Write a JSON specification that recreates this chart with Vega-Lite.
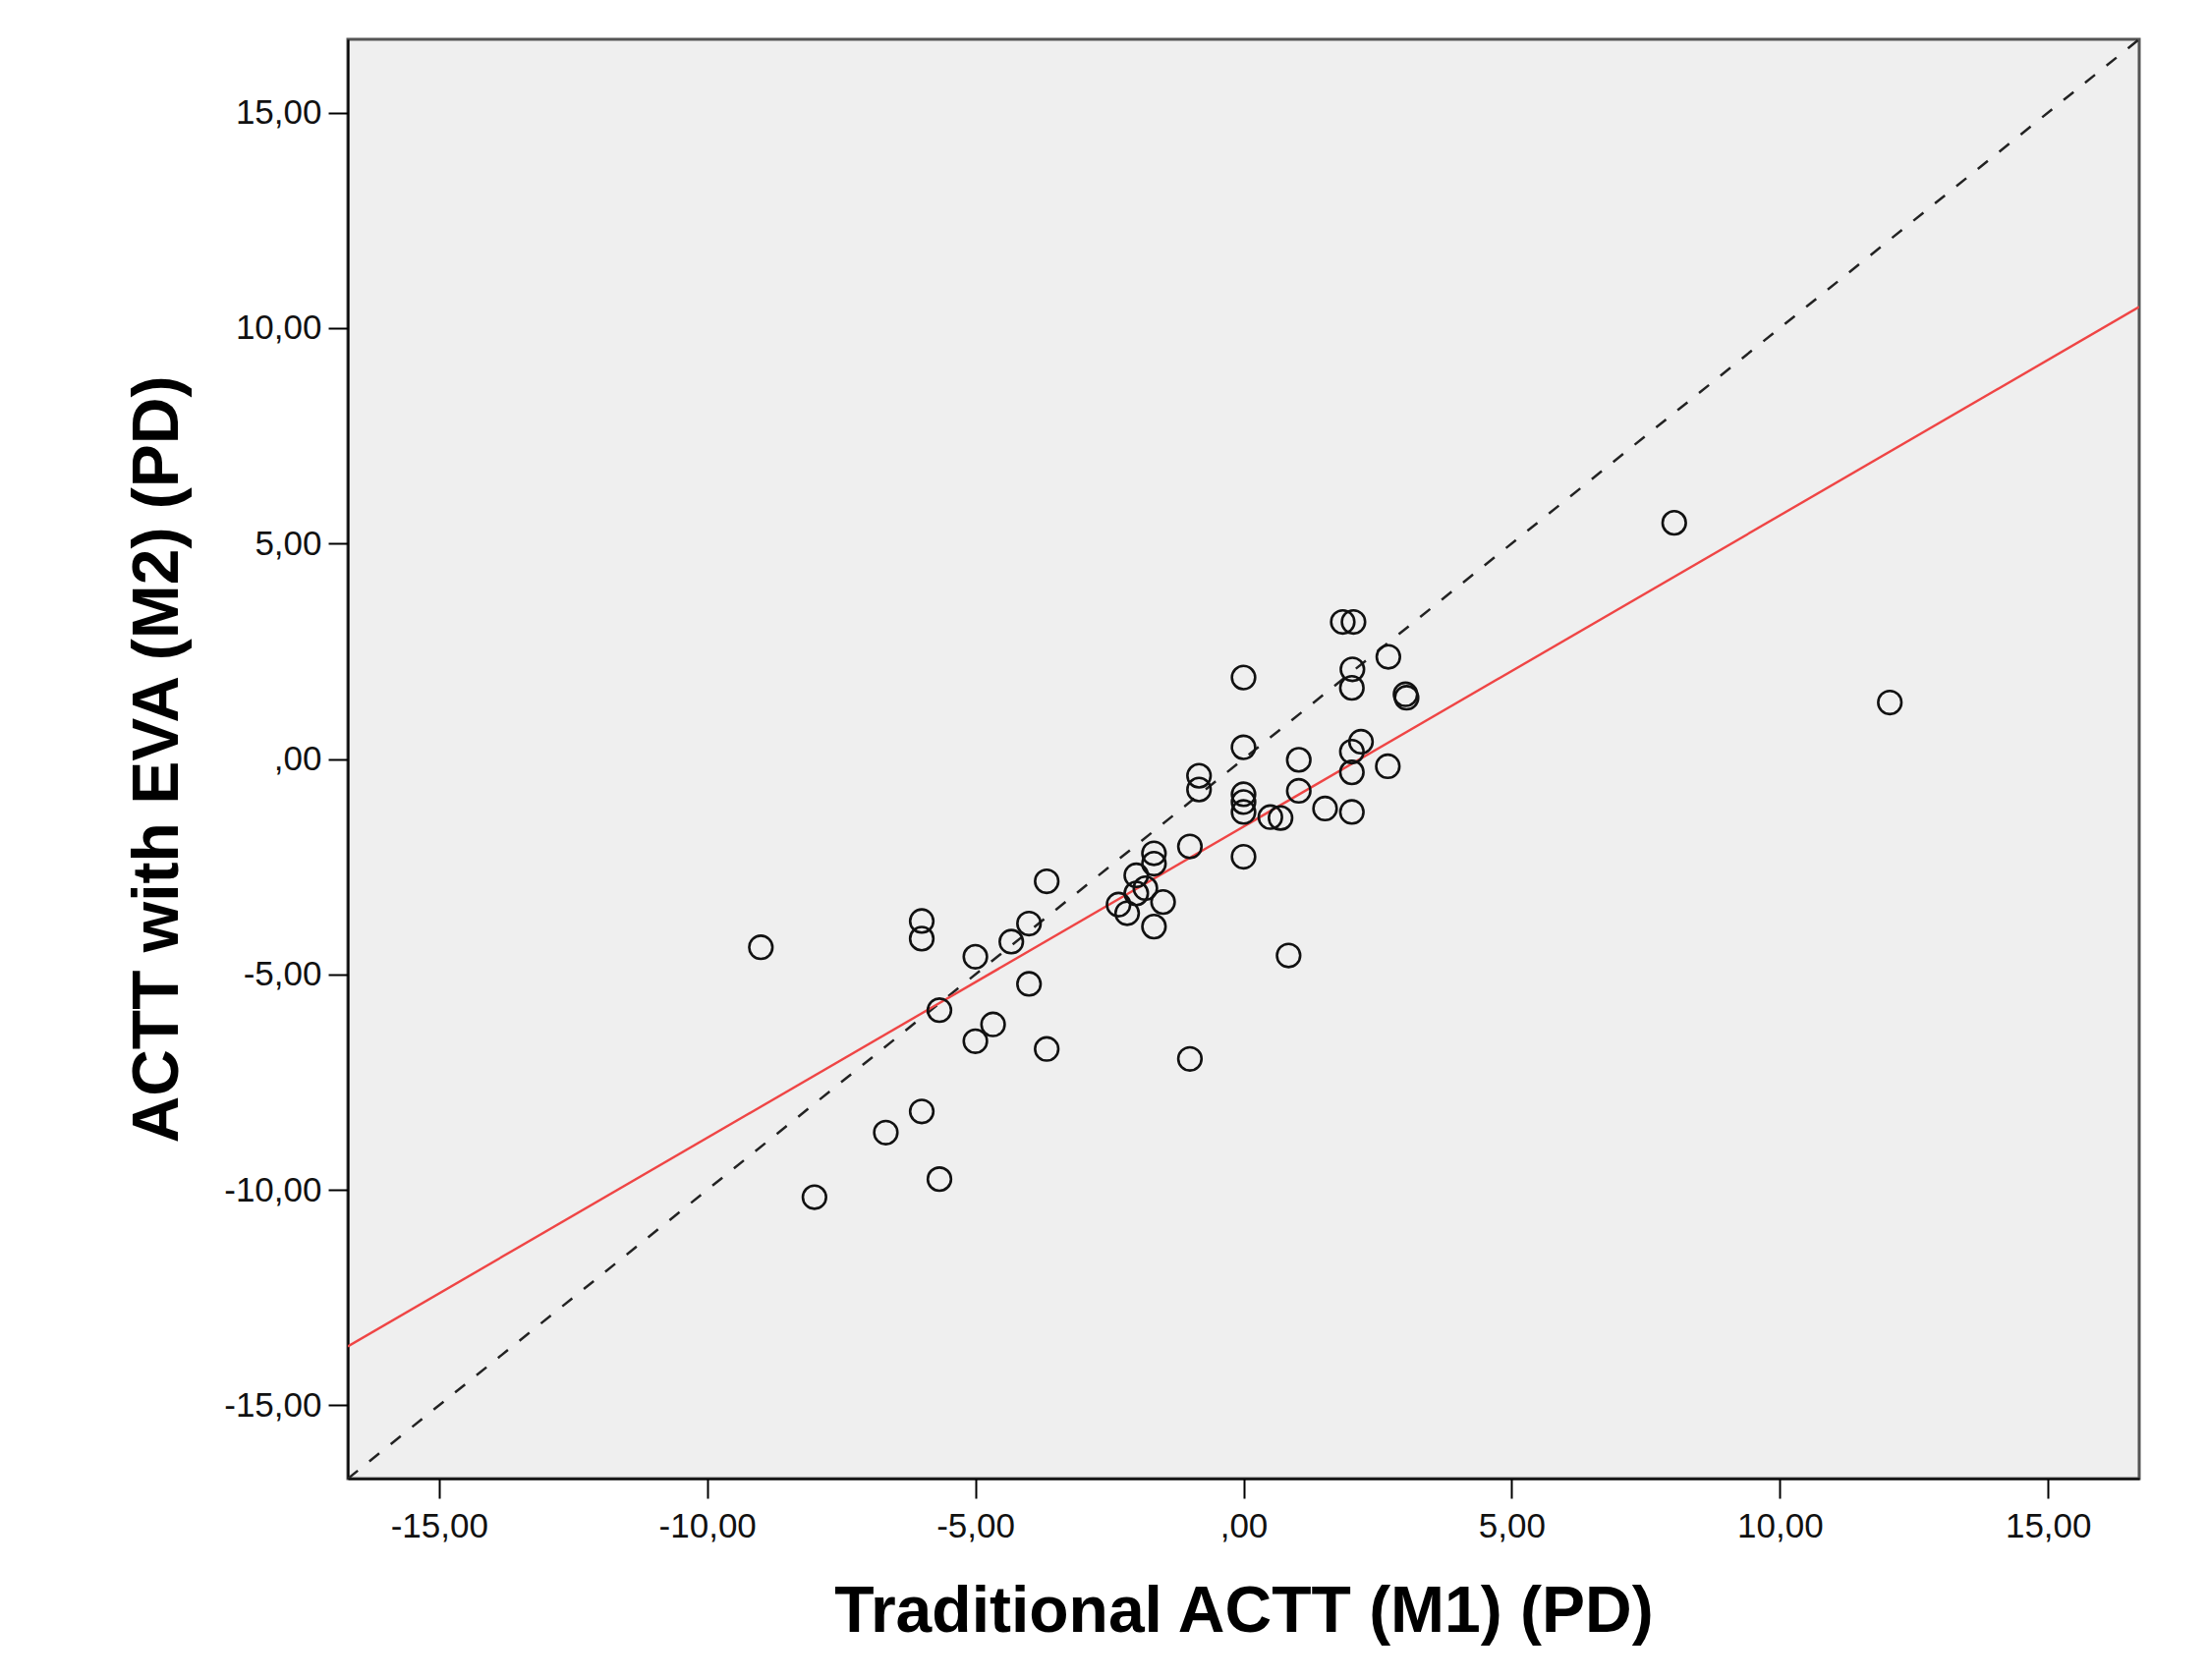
{
  "$schema": "https://vega.github.io/schema/vega-lite/v6.json",
  "autosize": {"type": "none"},
  "width": 1823,
  "height": 1465,
  "padding": {"left": 354, "top": 40, "right": 70, "bottom": 205},
  "background": "#ffffff",
  "config": {
    "view": {"fill": "#efefef", "stroke": "#555555", "strokeWidth": 3},
    "axis": {
      "grid": false,
      "domainColor": "#000000",
      "domainWidth": 2,
      "tickColor": "#000000",
      "tickWidth": 2,
      "tickSize": 20,
      "labelFont": "Liberation Sans",
      "labelFontSize": 35,
      "labelColor": "#111111",
      "titleFont": "Liberation Sans",
      "titleFontSize": 66,
      "titleFontWeight": "bold",
      "titleColor": "#000000"
    }
  },
  "datasets": {
    "points": [
      {"m1": -9, "m2": -4.37},
      {"m1": -8, "m2": -10.17},
      {"m1": -6.67, "m2": -8.67},
      {"m1": -6, "m2": -3.76},
      {"m1": -6, "m2": -4.17},
      {"m1": -6, "m2": -8.18},
      {"m1": -5.67, "m2": -5.83},
      {"m1": -5.67, "m2": -9.75},
      {"m1": -5, "m2": -4.59},
      {"m1": -5, "m2": -6.55},
      {"m1": -4.67, "m2": -6.16},
      {"m1": -4.33, "m2": -4.24},
      {"m1": -4, "m2": -3.82},
      {"m1": -4, "m2": -5.22},
      {"m1": -3.67, "m2": -2.84},
      {"m1": -3.67, "m2": -6.73},
      {"m1": -2.33, "m2": -3.38},
      {"m1": -2.17, "m2": -3.58},
      {"m1": -2, "m2": -2.7},
      {"m1": -2, "m2": -3.12},
      {"m1": -1.83, "m2": -3.0},
      {"m1": -1.67, "m2": -2.19},
      {"m1": -1.67, "m2": -2.43},
      {"m1": -1.67, "m2": -3.89},
      {"m1": -1.5, "m2": -3.32},
      {"m1": -1, "m2": -2.03},
      {"m1": -1, "m2": -6.96},
      {"m1": -0.83, "m2": -0.39},
      {"m1": -0.83, "m2": -0.71},
      {"m1": 0, "m2": 1.89},
      {"m1": 0, "m2": 0.27},
      {"m1": 0, "m2": -0.82},
      {"m1": 0, "m2": -1.0},
      {"m1": 0, "m2": -1.23},
      {"m1": 0, "m2": -2.27},
      {"m1": 0.5, "m2": -1.35},
      {"m1": 0.69, "m2": -1.37},
      {"m1": 0.84, "m2": -4.56},
      {"m1": 1.03, "m2": -0.02},
      {"m1": 1.03, "m2": -0.74},
      {"m1": 1.52, "m2": -1.15},
      {"m1": 1.85, "m2": 3.18},
      {"m1": 2.05, "m2": 3.18},
      {"m1": 2.03, "m2": 2.08},
      {"m1": 2.02, "m2": 1.65},
      {"m1": 2.02, "m2": 0.17},
      {"m1": 2.02, "m2": -0.31},
      {"m1": 2.02, "m2": -1.23},
      {"m1": 2.19, "m2": 0.4},
      {"m1": 2.7, "m2": 2.37},
      {"m1": 2.69, "m2": -0.17},
      {"m1": 3.02, "m2": 1.5},
      {"m1": 3.04, "m2": 1.42},
      {"m1": 8.03, "m2": 5.48},
      {"m1": 12.05, "m2": 1.31}
    ],
    "identity": [
      {"m1": -16.7, "m2": -16.7},
      {"m1": 16.7, "m2": 16.7}
    ],
    "fit": [
      {"m1": -16.7, "m2": -13.63},
      {"m1": 16.7, "m2": 10.49}
    ]
  },
  "encoding": {
    "x": {
      "field": "m1",
      "type": "quantitative",
      "scale": {"domain": [-16.7, 16.7], "nice": false, "zero": false},
      "axis": {
        "title": "Traditional ACTT (M1) (PD)",
        "values": [-15, -10, -5, 0, 5, 10, 15],
        "labelExpr": "(datum.value < 0 ? '-' : '') + (datum.value == 0 ? '' : abs(datum.value)) + ',00'",
        "labelPadding": 11,
        "titlePadding": 37
      }
    },
    "y": {
      "field": "m2",
      "type": "quantitative",
      "scale": {"domain": [-16.7, 16.7], "nice": false, "zero": false},
      "axis": {
        "title": "ACTT with EVA (M2) (PD)",
        "values": [-15, -10, -5, 0, 5, 10, 15],
        "labelExpr": "(datum.value < 0 ? '-' : '') + (datum.value == 0 ? '' : abs(datum.value)) + ',00'",
        "labelPadding": 7,
        "titlePadding": 33
      }
    }
  },
  "layer": [
    {
      "data": {"name": "identity"},
      "mark": {"type": "line", "color": "#222222", "strokeWidth": 2.5, "strokeDash": [13, 15], "clip": true},
      "encoding": {}
    },
    {
      "data": {"name": "fit"},
      "mark": {"type": "line", "color": "#ef4545", "strokeWidth": 2.4, "clip": true},
      "encoding": {}
    },
    {
      "data": {"name": "points"},
      "mark": {"type": "point", "shape": "circle", "filled": false, "stroke": "#111111", "strokeWidth": 2.6, "size": 560, "opacity": 1},
      "encoding": {}
    }
  ]
}
